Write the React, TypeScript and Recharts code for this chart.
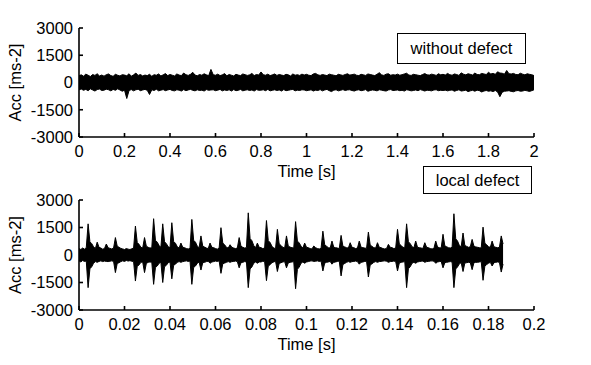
import { Area, ComposedChart, XAxis, YAxis } from 'recharts';

// sampling step of each record (one envelope bin), seconds
const TOP_STEP = 0.01;
const BOTTOM_STEP = 0.0008;

// without defect, 0..2 s: upper / lower envelope of the acceleration
const topUpper = [
  380, 420, 350, 460, 400, 330, 440, 390, 480, 360, 410, 350, 430, 470, 380, 340, 450, 400, 360, 430,
  410, 370, 480, 350, 420, 520, 390, 440, 360, 410, 380, 450, 340, 430, 400, 470, 360, 420, 490, 380,
  440, 400, 360, 470, 410, 380, 520, 430, 390, 450, 560, 410, 370, 440, 400, 480, 420, 380, 720, 430,
  400, 460, 380, 420, 490, 370, 440, 400, 360, 450, 410, 380, 470, 430, 390, 420, 500, 380, 440, 410,
  580, 430, 400, 460, 380, 420, 470, 390, 440, 410, 380, 450, 420, 360, 470, 400, 430, 390, 460, 410,
  450, 400, 380, 470, 500, 420, 390, 440, 410, 380, 460, 430, 400, 370, 450, 420, 390, 440, 480, 410,
  430, 460, 400, 380, 450, 420, 390, 470, 440, 410, 380, 450, 540, 420, 390, 460, 480, 400, 430, 410,
  460, 400, 430, 470, 510, 410, 390, 450, 430, 400, 380, 440, 490, 420, 410, 460, 430, 390, 480, 420,
  450, 410, 500, 430, 400, 470, 440, 390, 530, 460, 420, 480, 450, 410, 520, 440, 430, 500, 470, 440,
  560, 470, 500, 450, 590, 520, 510, 460, 660, 480, 470, 500, 440, 430, 510, 460, 420, 480, 450, 430,
  380,
];
const topLower = [
  -400, -360, -430, -380, -450, -350, -410, -470, -390, -360, -440, -420, -370, -400, -460, -380, -430, -350, -410, -480,
  -420, -880, -440, -390, -460, -400, -370, -450, -410, -380, -430, -660, -400, -440, -370, -460, -420, -390, -450, -410,
  -380, -440, -460, -400, -420, -470, -390, -450, -410, -380, -430, -460, -400, -440, -420, -470, -390, -430, -410, -400,
  -450, -420, -380, -460, -410, -440, -400, -470, -390, -450, -430, -380, -460, -420, -400, -440, -410, -470, -390, -430,
  -420, -400, -450, -380, -460, -430, -400, -440, -410, -470, -390, -450, -430, -400, -380, -460, -420, -440, -400, -410,
  -450, -430, -400, -470, -420, -440, -390, -460, -410, -380, -450, -500, -420, -400, -460, -430, -390, -440, -410, -400,
  -440, -470, -420, -400, -450, -430, -390, -480, -440, -410, -430, -460, -400, -420, -450, -470, -410, -390, -440, -430,
  -410, -450, -430, -470, -400, -420, -460, -440, -410, -450, -390, -430, -470, -420, -440, -460, -410, -400, -450, -430,
  -440, -420, -460, -430, -410, -480, -440, -400, -470, -450, -420, -500, -460, -430, -480, -420, -450, -520, -470, -440,
  -480, -460, -500, -440, -520, -780, -540, -480, -470, -450, -490, -510, -460, -440, -480, -470, -430, -460, -490, -450,
  -400,
];

// local defect, 0..0.186 s: upper / lower envelope of the acceleration
const bottomUpper = [
  350, 300, 380, 320, 400, 1700, 720, 620, 450, 350,
  700, 420, 380, 320, 350, 600, 400, 360, 330, 380,
  950, 480, 420, 360, 330, 300, 350, 320, 300, 340,
  380, 1580, 680, 580, 420, 380, 950, 480, 420, 380,
  400, 1980, 800, 700, 520, 420, 1700, 720, 620, 450,
  400, 1760, 740, 640, 450, 380, 650, 420, 400, 350,
  330, 360, 1940, 800, 700, 480, 400, 1040, 480, 430,
  380, 350, 650, 420, 400, 350, 320, 380, 1490, 650,
  560, 420, 380, 560, 420, 380, 350, 380, 950, 480,
  420, 380, 400, 2300, 900, 780, 520, 400, 650, 420,
  400, 350, 380, 1880, 780, 680, 480, 380, 350, 1400,
  600, 520, 420, 380, 1040, 480, 430, 400, 380, 1820,
  760, 660, 480, 380, 650, 420, 400, 350, 330, 490,
  400, 350, 330, 360, 1300, 560, 480, 400, 380, 760,
  420, 400, 380, 350, 1070, 480, 440, 400, 380, 670,
  420, 400, 350, 380, 760, 420, 400, 380, 360, 1250,
  540, 470, 400, 380, 670, 420, 400, 350, 330, 360,
  580, 420, 400, 350, 380, 1400, 600, 520, 420, 400,
  1700, 720, 620, 450, 400, 760, 420, 400, 380, 360,
  670, 420, 400, 350, 330, 360, 760, 430, 400, 380,
  1130, 500, 450, 400, 380, 420, 2250, 880, 760, 520,
  450, 1200, 520, 470, 420, 450, 850, 480, 440, 420,
  400, 380, 1520, 640, 560, 450, 420, 760, 450, 420,
  400, 420, 1040, 600,
];
const bottomLower = [
  -320, -380, -300, -350, -330, -1780, -750, -640, -450, -360,
  -400, -350, -320, -360, -330, -350, -360, -340, -320, -350,
  -960, -460, -420, -360, -320, -350, -300, -330, -310, -340,
  -360, -1420, -620, -540, -400, -380, -960, -460, -400, -380,
  -400, -1600, -680, -600, -450, -400, -1500, -640, -560, -420,
  -380, -1300, -560, -500, -400, -360, -400, -360, -340, -320,
  -350, -330, -1600, -680, -600, -450, -380, -820, -420, -400,
  -360, -340, -450, -380, -360, -330, -350, -320, -1000, -480,
  -440, -400, -360, -400, -360, -350, -330, -360, -700, -420,
  -400, -360, -380, -1780, -760, -650, -450, -380, -450, -380,
  -380, -340, -360, -1400, -600, -530, -420, -380, -340, -900,
  -460, -420, -380, -360, -700, -430, -400, -380, -360, -1840,
  -780, -660, -450, -380, -450, -380, -360, -330, -320, -350,
  -340, -320, -350, -330, -870, -440, -400, -380, -350, -500,
  -400, -380, -350, -330, -1140, -520, -460, -400, -360, -400,
  -360, -350, -330, -360, -500, -400, -380, -350, -340, -1200,
  -540, -480, -400, -360, -400, -360, -350, -330, -320, -340,
  -400, -360, -350, -330, -360, -870, -440, -400, -380, -360,
  -1780, -750, -640, -450, -400, -450, -380, -360, -340, -330,
  -400, -360, -350, -330, -320, -340, -450, -380, -360, -350,
  -700, -420, -400, -380, -360, -380, -1780, -760, -650, -480,
  -420, -900, -440, -420, -400, -420, -800, -420, -400, -400,
  -380, -360, -1380, -600, -520, -450, -400, -600, -420, -400,
  -380, -400, -930, -500,
];

const accTicks = [-3000, -1500, 0, 1500, 3000];
const topTimeTicks = [0, 0.2, 0.4, 0.6, 0.8, 1, 1.2, 1.4, 1.6, 1.8, 2];
const bottomTimeTicks = [0, 0.02, 0.04, 0.06, 0.08, 0.1, 0.12, 0.14, 0.16, 0.18, 0.2];

const topData = topUpper.map((hi, i) => ({ t: i * TOP_STEP, acc: [topLower[i], hi] }));
const bottomData = bottomUpper.map((hi, i) => ({ t: i * BOTTOM_STEP, acc: [bottomLower[i], hi] }));

const FONT = '"Liberation Sans", Arial, Helvetica, sans-serif';
const FS = 16.5;
const tickStyle = { fill: '#000', fontSize: FS, fontFamily: FONT };
const frame = { stroke: '#000', strokeWidth: 1.6 };

interface PanelProps {
  data: { t: number; acc: number[] }[];
  timeTicks: number[];
  top: number;
  height: number;
  marginTop: number;
  xAxisHeight: number;
  titleOffset: number;
}

function Panel({ data, timeTicks, top, height, marginTop, xAxisHeight, titleOffset }: PanelProps) {
  const timeDomain = [timeTicks[0], timeTicks[timeTicks.length - 1]];
  return (
    <div style={{ position: 'absolute', left: 0, top }}>
      <ComposedChart width={591} height={height} data={data} margin={{ top: marginTop, right: 57, bottom: 0, left: 0 }}>
        <XAxis
          dataKey="t"
          type="number"
          domain={timeDomain}
          ticks={timeTicks}
          interval={0}
          allowDataOverflow
          height={xAxisHeight}
          axisLine={frame}
          tickLine={frame}
          tickSize={-4}
          tickMargin={12}
          tick={tickStyle}
          label={{
            value: 'Time [s]',
            position: 'insideBottom',
            offset: titleOffset,
            fill: '#000',
            fontSize: FS,
            fontFamily: FONT,
          }}
        />
        <XAxis
          xAxisId="top"
          orientation="top"
          type="number"
          domain={timeDomain}
          ticks={timeTicks}
          interval={0}
          allowDataOverflow
          height={0}
          axisLine={frame}
          tickLine={frame}
          tickSize={-4}
          tick={false}
        />
        <YAxis
          type="number"
          domain={[-3000, 3000]}
          ticks={accTicks}
          interval={0}
          allowDataOverflow
          width={79}
          axisLine={frame}
          tickLine={frame}
          tickSize={-4}
          tickMargin={10}
          tick={tickStyle}
          label={{
            value: 'Acc [ms-2]',
            angle: -90,
            position: 'insideLeft',
            offset: 15,
            fill: '#000',
            fontSize: FS,
            fontFamily: FONT,
            style: { textAnchor: 'middle' },
          }}
        />
        <YAxis
          yAxisId="r"
          orientation="right"
          type="number"
          domain={[-3000, 3000]}
          ticks={accTicks}
          interval={0}
          allowDataOverflow
          width={0}
          axisLine={frame}
          tickLine={frame}
          tickSize={-4}
          tick={false}
        />
        <Area
          dataKey="acc"
          type="linear"
          stroke="#000"
          strokeWidth={1}
          fill="#000"
          fillOpacity={1}
          dot={false}
          activeDot={false}
          isAnimationActive={false}
        />
      </ComposedChart>
    </div>
  );
}

const boxStyle = {
  position: 'absolute' as const,
  boxSizing: 'border-box' as const,
  border: '1.6px solid #000',
  background: '#fff',
  display: 'flex',
  alignItems: 'center',
  justifyContent: 'center',
  fontSize: FS,
  color: '#000',
};

export default function App() {
  return (
    <div
      style={{
        position: 'absolute',
        left: 0,
        top: 0,
        width: 591,
        height: 365,
        background: '#fff',
        fontFamily: FONT,
        overflow: 'hidden',
      }}
    >
      <Panel data={topData} timeTicks={topTimeTicks} top={0} height={180} marginTop={28} xAxisHeight={43} titleOffset={3} />
      <Panel data={bottomData} timeTicks={bottomTimeTicks} top={180} height={185} marginTop={20} xAxisHeight={55} titleOffset={15} />
      <div style={{ ...boxStyle, left: 397, top: 33, width: 129, height: 31 }}>without defect</div>
      <div style={{ ...boxStyle, left: 423, top: 166, width: 109, height: 28 }}>local defect</div>
    </div>
  );
}
